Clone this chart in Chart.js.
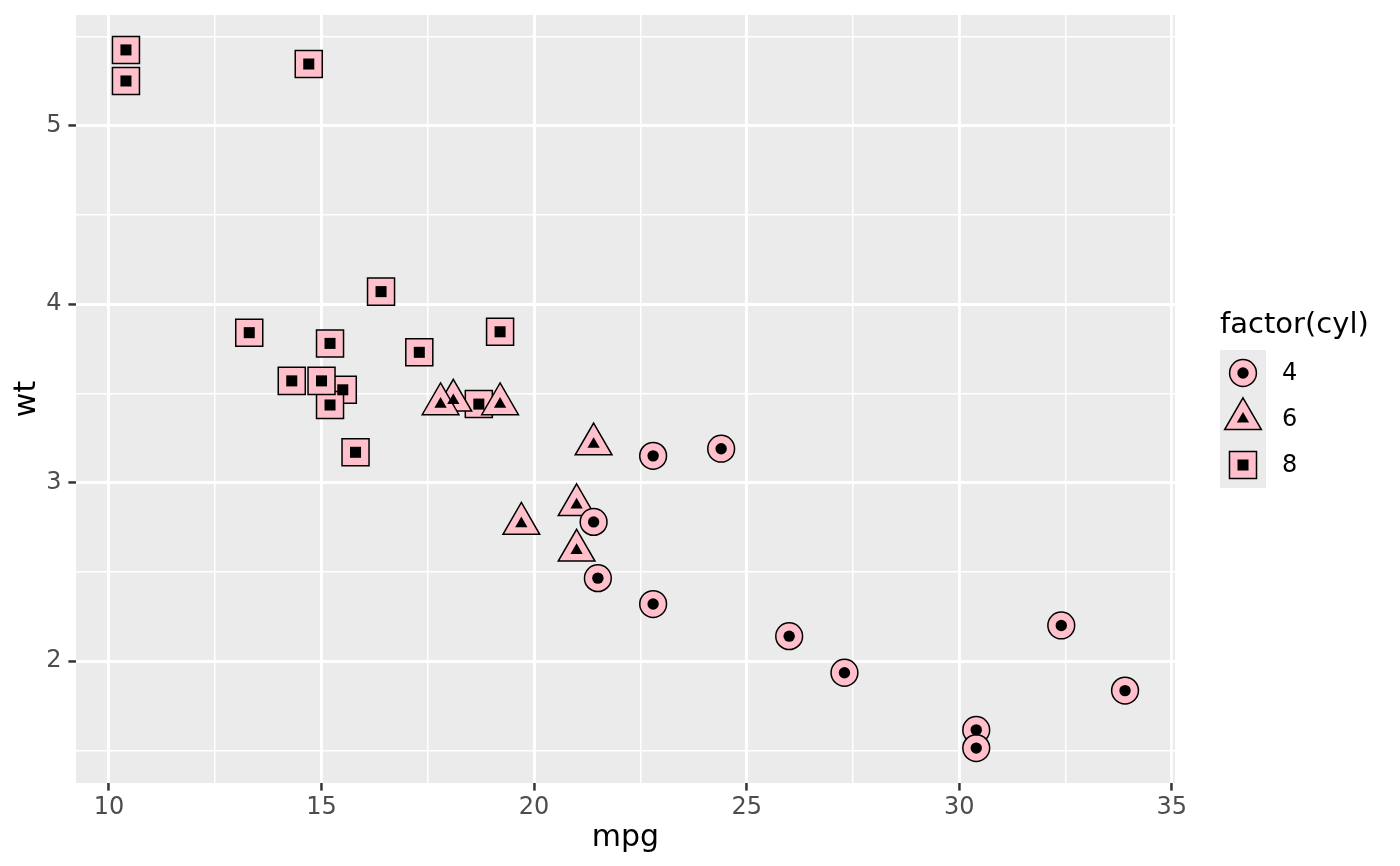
<!DOCTYPE html>
<html>
<head>
<meta charset="utf-8">
<script src="https://cdn.jsdelivr.net/npm/chart.js@4"></script>
<style>
  html, body { margin: 0; padding: 0; background: #ffffff; }
  #wrap { width: 1400px; height: 866px; }
</style>
</head>
<body>
<div id="wrap"><canvas id="chart" width="1400" height="866"></canvas></div>
<script>
// mtcars: mpg, wt and cyl per car (row order kept, it sets the drawing order)
const mpg = [21.0, 21.0, 22.8, 21.4, 18.7, 18.1, 14.3, 24.4, 22.8, 19.2, 17.8, 16.4, 17.3, 15.2, 10.4, 10.4,
  14.7, 32.4, 30.4, 33.9, 21.5, 15.5, 15.2, 13.3, 19.2, 27.3, 26.0, 30.4, 15.8, 19.7, 15.0, 21.4];
const wt = [2.620, 2.875, 2.320, 3.215, 3.440, 3.460, 3.570, 3.190, 3.150, 3.440, 3.440, 4.070, 3.730, 3.780, 5.250, 5.424,
  5.345, 2.200, 1.615, 1.835, 2.465, 3.520, 3.435, 3.840, 3.845, 1.935, 2.140, 1.513, 3.170, 2.770, 3.570, 2.780];
const cyl = [6, 6, 4, 6, 8, 6, 8, 4, 4, 6, 6, 8, 8, 8, 8, 8, 8, 4, 4, 4, 4, 8, 8, 8, 8, 4, 4, 4, 8, 6, 8, 4];

const cylLevels = [4, 6, 8];
const xTickLabels = ['10', '15', '20', '25', '30', '35'];
const yTickLabels = ['2', '3', '4', '5'];

// look
const FONT = "'DejaVu Sans', sans-serif";
const PINK = '#FFC0CB';
const shapeOf = { 4: 'circle', 6: 'triangle', 8: 'rect' };
const outerR = { circle: 13.4, triangle: 21.2, rect: 19.1 };
const innerR = { circle: 5.7, triangle: 7.1, rect: 7.8 };

const points = mpg.map((m, i) => ({ x: m, y: wt[i] }));
const styleAt = (ctx) => shapeOf[cyl[ctx.dataIndex]];

// ggplot-like 5% expansion
function expand(arr) {
  const lo = Math.min(...arr), hi = Math.max(...arr);
  const pad = (hi - lo) * 0.05;
  return [lo - pad, hi + pad];
}
const [xMin, xMax] = expand(mpg);
const [yMin, yMax] = expand(wt);

const legendPlugin = {
  id: 'ggLegend',
  afterDraw(chart) {
    const ctx = chart.ctx;
    const left = 1220, top = 350, key = 46;
    ctx.save();
    ctx.fillStyle = '#000000';
    ctx.font = '29px ' + FONT;
    ctx.textAlign = 'left';
    ctx.textBaseline = 'alphabetic';
    ctx.fillText('factor(cyl)', left, 333);

    ctx.fillStyle = '#EBEBEB';
    ctx.fillRect(left, top, key, key * cylLevels.length);

    cylLevels.forEach((lv, i) => {
      const cx = left + key / 2, cy = top + key * i + key / 2;
      const shape = shapeOf[lv];
      ctx.fillStyle = PINK;
      ctx.strokeStyle = '#000000';
      ctx.lineWidth = 1.5;
      Chart.helpers.drawPoint(ctx, { pointStyle: shape, radius: outerR[shape], rotation: 0, borderWidth: 1.5 }, cx, cy);
      ctx.fillStyle = '#000000';
      Chart.helpers.drawPoint(ctx, { pointStyle: shape, radius: innerR[shape], rotation: 0, borderWidth: 0 }, cx, cy);
      ctx.fillStyle = '#000000';
      ctx.font = '24px ' + FONT;
      ctx.textBaseline = 'middle';
      ctx.fillText(String(lv), 1282, cy + 1);
    });
    ctx.restore();
  }
};

const panelBg = {
  id: 'panelBg',
  beforeDraw(chart) {
    const { ctx, chartArea: a } = chart;
    ctx.save();
    ctx.fillStyle = '#EBEBEB';
    ctx.fillRect(a.left, a.top, a.right - a.left, a.bottom - a.top);
    ctx.restore();
  }
};

const isMajorX = (v) => Math.abs(v / 5 - Math.round(v / 5)) < 1e-6;
const isMajorY = (v) => Math.abs(v - Math.round(v)) < 1e-6;

new Chart(document.getElementById('chart'), {
  type: 'scatter',
  data: {
    datasets: [
      {
        label: 'inner',
        data: points,
        order: 1,
        pointStyle: styleAt,
        pointRadius: (ctx) => innerR[styleAt(ctx)],
        backgroundColor: '#000000',
        borderWidth: 0
      },
      {
        label: 'outer',
        data: points,
        order: 2,
        pointStyle: styleAt,
        pointRadius: (ctx) => outerR[styleAt(ctx)],
        backgroundColor: PINK,
        borderColor: '#000000',
        borderWidth: 1.5
      }
    ]
  },
  options: {
    responsive: false,
    animation: false,
    events: [],
    layout: { autoPadding: false, padding: { left: 0, right: 225, top: 15, bottom: 0 } },
    plugins: { legend: { display: false }, tooltip: { enabled: false } },
    scales: {
      x: {
        type: 'linear',
        min: xMin,
        max: xMax,
        afterFit: (s) => { s.height = 83; s.paddingLeft = 0; s.paddingRight = 0; },
        border: { display: false },
        grid: {
          color: '#FFFFFF',
          lineWidth: (c) => (c.tick && isMajorX(c.tick.value) ? 2.9 : 1.5),
          tickColor: (c) => (c.tick && isMajorX(c.tick.value) ? '#333333' : 'rgba(0,0,0,0)'),
          tickWidth: 2.5,
          tickLength: 7.6
        },
        ticks: {
          stepSize: 2.5,
          includeBounds: false,
          autoSkip: false,
          maxRotation: 0,
          padding: 3,
          color: '#4D4D4D',
          font: { family: FONT, size: 24 },
          callback: (v) => {
            const s = String(Math.round(v));
            return isMajorX(v) && xTickLabels.includes(s) ? s : '';
          }
        },
        title: {
          display: true,
          text: 'mpg',
          color: '#000000',
          font: { family: FONT, size: 30 },
          padding: { top: 0, bottom: 10 }
        }
      },
      y: {
        type: 'linear',
        min: yMin,
        max: yMax,
        afterFit: (s) => { s.width = 76; s.paddingTop = 0; s.paddingBottom = 0; },
        border: { display: false },
        grid: {
          color: '#FFFFFF',
          lineWidth: (c) => (c.tick && isMajorY(c.tick.value) ? 2.9 : 1.5),
          tickColor: (c) => (c.tick && isMajorY(c.tick.value) ? '#333333' : 'rgba(0,0,0,0)'),
          tickWidth: 2.5,
          tickLength: 7.6
        },
        ticks: {
          stepSize: 0.5,
          includeBounds: false,
          autoSkip: false,
          padding: 7,
          color: '#4D4D4D',
          font: { family: FONT, size: 24 },
          callback: (v) => {
            const s = String(Math.round(v));
            return isMajorY(v) && yTickLabels.includes(s) ? s : '';
          }
        },
        title: {
          display: true,
          text: 'wt',
          color: '#000000',
          font: { family: FONT, size: 30 },
          padding: { top: 9, bottom: 0 }
        }
      }
    }
  },
  plugins: [panelBg, legendPlugin]
});
</script>
</body>
</html>
